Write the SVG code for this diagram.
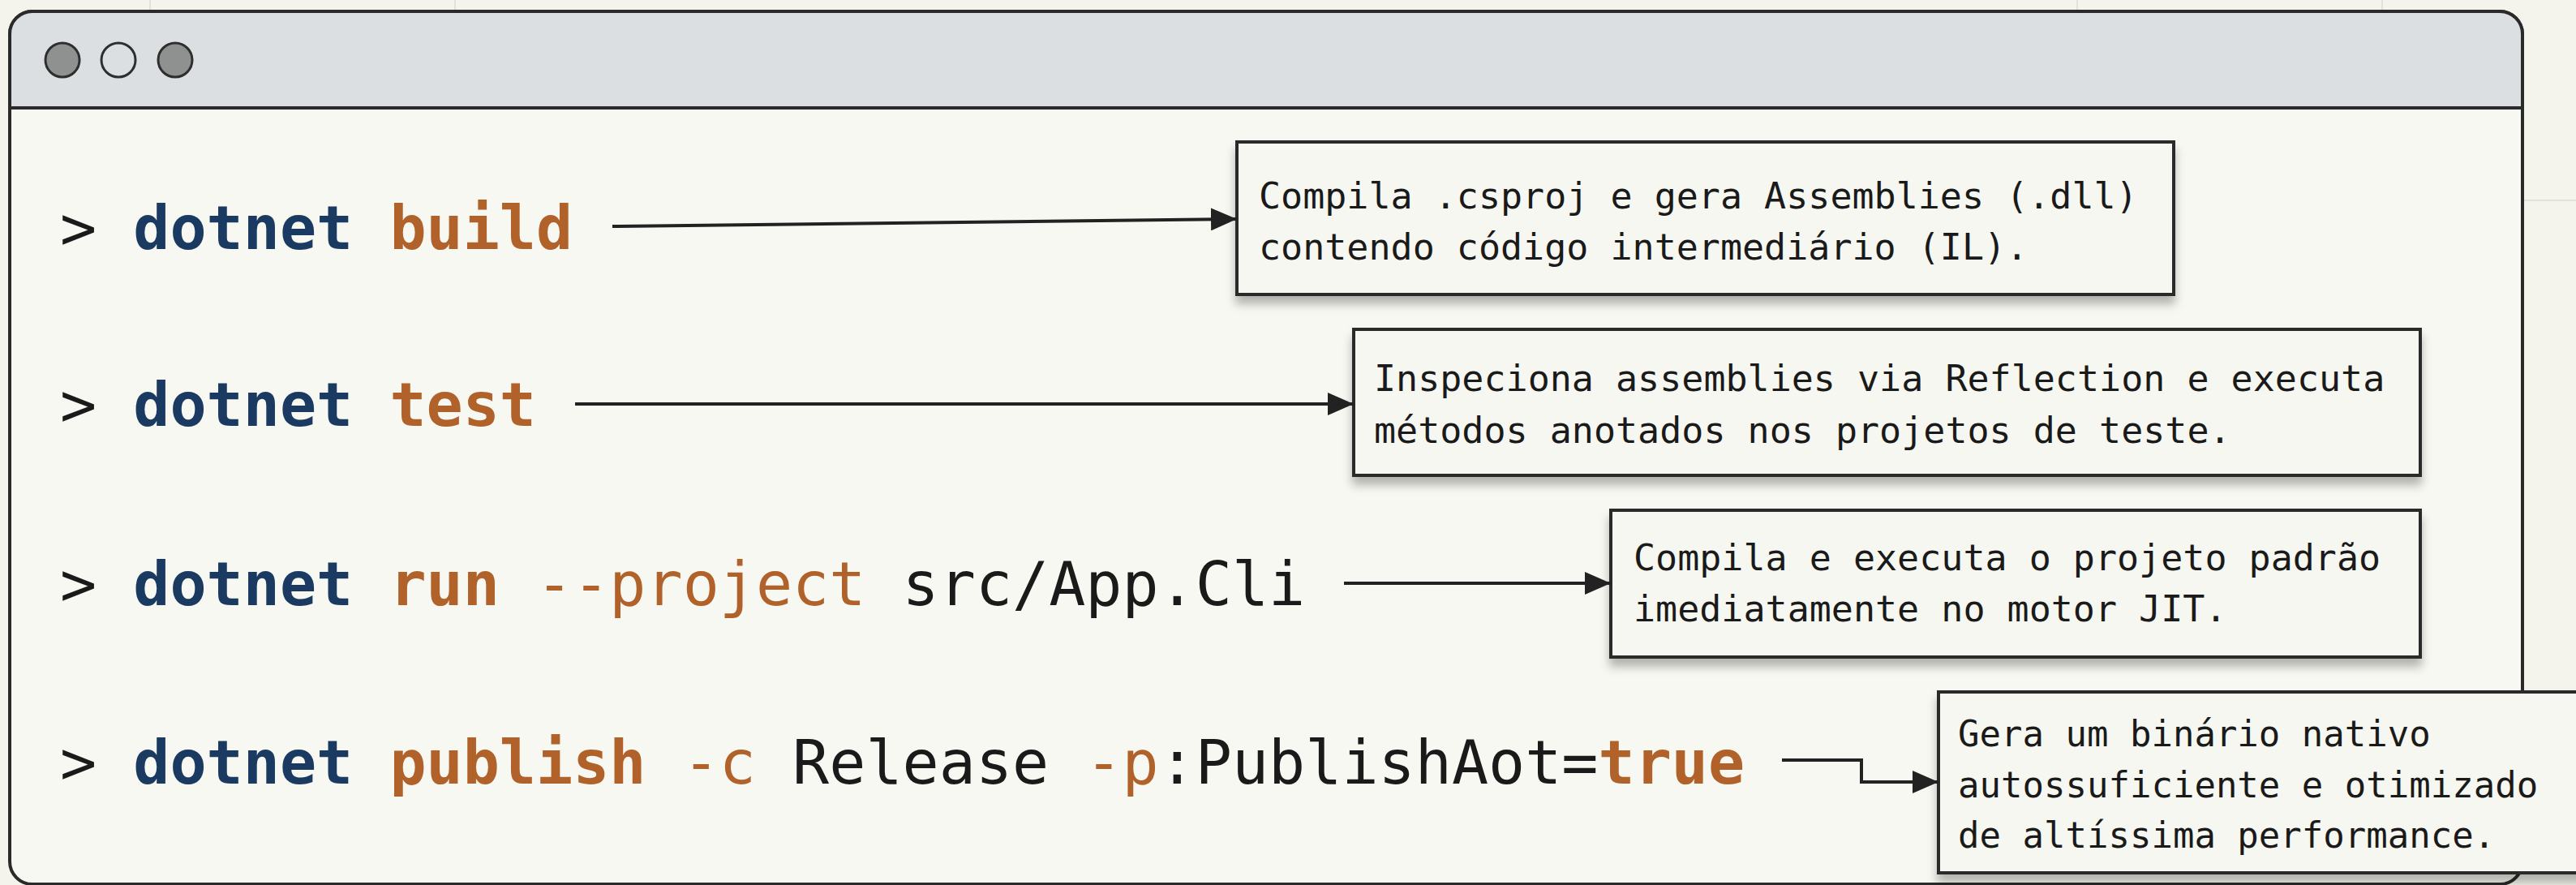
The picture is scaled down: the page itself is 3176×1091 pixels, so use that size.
<svg xmlns="http://www.w3.org/2000/svg" width="3176" height="1091" viewBox="0 0 3176 1091">
  <defs>
    <style>
      .grid { stroke: #e2e2da; stroke-width: 2; fill: none; }
      .cmd { font-family: "DejaVu Sans Mono", "Liberation Mono", monospace; font-size: 75px; fill: #1a1a1a; }
      .kw { font-weight: bold; fill: #1b3a62; }
      .verb { font-weight: bold; fill: #b0622a; }
      .opt { fill: #b0622a; }
      .desc { font-family: "DejaVu Sans Mono", "Liberation Mono", monospace; font-size: 45px; fill: #1a1a1a; }
      .box { fill: #f7f7f1; stroke: #2a2a2a; stroke-width: 4; filter: url(#shadow); }
      .conn { stroke: #222; stroke-width: 4; fill: none; marker-end: url(#arrow); }
      .dot { stroke: #2e2e2e; stroke-width: 3; }
    </style>
    <filter id="shadow" x="-10%" y="-20%" width="120%" height="160%">
      <feDropShadow dx="0" dy="10" stdDeviation="6" flood-color="#000" flood-opacity="0.28"/>
    </filter>
    <marker id="arrow" markerUnits="userSpaceOnUse" markerWidth="34" markerHeight="28" refX="32" refY="14" orient="auto">
      <path d="M0,0 L32,14 L0,28 Z" fill="#222"/>
    </marker>
  </defs>

  <rect x="0" y="0" width="3176" height="1091" fill="#f4f4ec"/>
  <g id="background-grid">
    <line class="grid" x1="185" y1="0" x2="185" y2="14"/>
    <line class="grid" x1="561" y1="0" x2="561" y2="14"/>
    <line class="grid" x1="2561" y1="0" x2="2561" y2="14"/>
    <line class="grid" x1="2937" y1="0" x2="2937" y2="14"/>
    <line class="grid" x1="3112" y1="247" x2="3176" y2="247"/>
  </g>

  <g id="window">
    <rect x="12" y="14" width="3098" height="1076" rx="28" fill="#f8f8f2" stroke="#2a2a2a" stroke-width="4"/>
    <path d="M12,133 V42 A28,28 0 0 1 40,14 H3082 A28,28 0 0 1 3110,42 V133 Z" fill="#dcdfe2" stroke="#2a2a2a" stroke-width="4"/>
    <circle class="dot" cx="77" cy="74" r="21" fill="#8e9190"/>
    <circle class="dot" cx="146" cy="74" r="21" fill="#dcdfe2"/>
    <circle class="dot" cx="216" cy="74" r="21" fill="#8e9190"/>
  </g>

  <g id="cmd-build">
    <text class="cmd" x="74" y="307">&gt; <tspan class="kw">dotnet</tspan> <tspan class="verb">build</tspan></text>
  </g>
  <g id="cmd-test">
    <text class="cmd" x="74" y="525">&gt; <tspan class="kw">dotnet</tspan> <tspan class="verb">test</tspan></text>
  </g>
  <g id="cmd-run">
    <text class="cmd" x="74" y="746">&gt; <tspan class="kw">dotnet</tspan> <tspan class="verb">run</tspan> <tspan class="opt">--project</tspan> src/App.Cli</text>
  </g>
  <g id="cmd-publish">
    <text class="cmd" x="74" y="966">&gt; <tspan class="kw">dotnet</tspan> <tspan class="verb">publish</tspan> <tspan class="opt">-c</tspan> Release <tspan class="opt">-p</tspan>:PublishAot=<tspan class="verb">true</tspan></text>
  </g>

  <g id="desc-build">
    <rect class="box" x="1525" y="175" width="1155" height="188"/>
    <text class="desc" x="1552" y="257">Compila .csproj e gera Assemblies (.dll)</text>
    <text class="desc" x="1552" y="320">contendo código intermediário (IL).</text>
  </g>
  <g id="desc-test">
    <rect class="box" x="1669" y="406" width="1315" height="180"/>
    <text class="desc" x="1694" y="482">Inspeciona assemblies via Reflection e executa</text>
    <text class="desc" x="1694" y="546">métodos anotados nos projetos de teste.</text>
  </g>
  <g id="desc-run">
    <rect class="box" x="1986" y="629" width="998" height="181"/>
    <text class="desc" x="2014" y="703">Compila e executa o projeto padrão</text>
    <text class="desc" x="2014" y="766">imediatamente no motor JIT.</text>
  </g>
  <g id="desc-publish">
    <rect class="box" x="2390" y="853" width="800" height="223"/>
    <text class="desc" x="2414" y="920" style="font-size:44px">Gera um binário nativo</text>
    <text class="desc" x="2414" y="983" style="font-size:44px">autossuficiente e otimizado</text>
    <text class="desc" x="2414" y="1045" style="font-size:44px">de altíssima performance.</text>
  </g>

  <g id="connectors">
    <path class="conn" d="M755,279 L1525,270"/>
    <path class="conn" d="M709,498 H1669"/>
    <path class="conn" d="M1657,719 H1986"/>
    <path class="conn" d="M2197,937 H2295 V964 H2390"/>
  </g>
</svg>
